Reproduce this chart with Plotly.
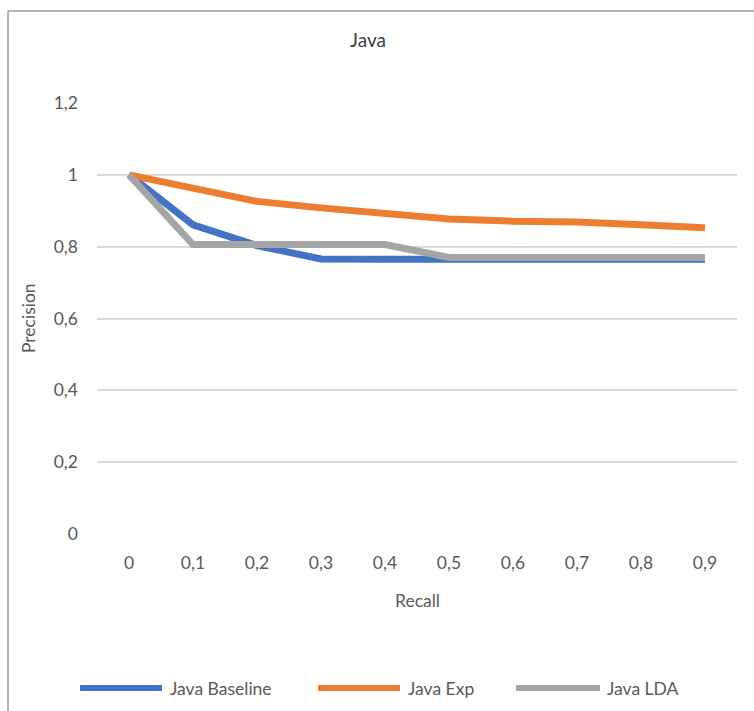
import plotly.graph_objects as go

# Recall levels (category labels, decimal comma) and precision per method
recall_labels = ["0", "0,1", "0,2", "0,3", "0,4", "0,5", "0,6", "0,7", "0,8", "0,9"]
java_baseline = [1.0, 0.861, 0.803, 0.766, 0.765, 0.765, 0.765, 0.765, 0.765, 0.765]
java_exp = [1.0, 0.962, 0.926, 0.908, 0.892, 0.877, 0.871, 0.869, 0.861, 0.853]
java_lda = [1.0, 0.806, 0.806, 0.806, 0.806, 0.770, 0.770, 0.770, 0.770, 0.770]

series_names = ["Java Baseline", "Java Exp", "Java LDA"]
series_values = [java_baseline, java_exp, java_lda]
series_colors = ["#4472C4", "#ED7D31", "#A5A5A5"]

FONT = "Lato"
TEXT_COLOR = "#595959"
FS = 17.5

fig = go.Figure()
for name, vals, color in zip(series_names, series_values, series_colors):
    fig.add_trace(go.Scatter(
        x=recall_labels, y=vals, name=name, mode="lines",
        line=dict(color=color, width=7),
        showlegend=False,
    ))

# Plot area spans 97..737 px horizontally and 103..534 px vertically
L, R, T, B = 97, 17, 103, 177
W, H = 754, 711
pw, ph = W - L - R, H - T - B


def px_x(p):
    return (p - L) / pw


def px_y(p):
    return (H - B - p) / ph


shapes = []
annotations = []

# Chart frame (left and top edges)
shapes.append(dict(type="line", xref="paper", yref="paper",
                   x0=px_x(8), x1=px_x(8), y0=px_y(11), y1=px_y(720),
                   line=dict(color="#6b6b6b", width=1)))
shapes.append(dict(type="line", xref="paper", yref="paper",
                   x0=px_x(8), x1=px_x(760), y0=px_y(11), y1=px_y(11),
                   line=dict(color="#6b6b6b", width=1)))

# Legend row with long line swatches
legend_items = [(80, 162, 168), (318, 400, 406), (516, 600, 605)]
for (x0, x1, tx), name, color in zip(legend_items, series_names, series_colors):
    shapes.append(dict(type="line", xref="paper", yref="paper",
                       x0=px_x(x0), x1=px_x(x1), y0=px_y(688), y1=px_y(688),
                       line=dict(color=color, width=6)))
    annotations.append(dict(text=name, xref="paper", yref="paper",
                            x=px_x(tx), y=px_y(688), xanchor="left", yanchor="middle",
                            showarrow=False,
                            font=dict(family=FONT, size=FS, color=TEXT_COLOR)))

# Axis titles
annotations.append(dict(text="Recall", xref="paper", yref="paper",
                        x=px_x(417), y=px_y(600), xanchor="center", yanchor="middle",
                        showarrow=False, font=dict(family=FONT, size=FS, color=TEXT_COLOR)))
annotations.append(dict(text="Precision", xref="paper", yref="paper",
                        x=px_x(28), y=px_y(318), xanchor="center", yanchor="middle",
                        textangle=-90, showarrow=False,
                        font=dict(family=FONT, size=FS, color=TEXT_COLOR)))

fig.update_layout(
    width=W, height=H,
    margin=dict(l=L, r=R, t=T, b=B),
    paper_bgcolor="white", plot_bgcolor="white",
    separators=",.",
    title=dict(text="Java", x=368 / W, xanchor="center",
               y=1 - 40 / H, yanchor="middle",
               font=dict(family=FONT, size=19, color="#404040")),
    font=dict(family=FONT, size=FS, color=TEXT_COLOR),
    shapes=shapes,
    annotations=annotations,
)
fig.update_xaxes(type="category", range=[-0.5, 9.5], showgrid=False,
                 showline=False, ticks="", zeroline=False,
                 tickfont=dict(family=FONT, size=FS, color=TEXT_COLOR),
                 ticklabelstandoff=16)
fig.update_yaxes(range=[0, 1.2], dtick=0.2, showgrid=True, gridcolor="#D9D9D9",
                 gridwidth=1.5, zeroline=False, showline=False, ticks="",
                 tickfont=dict(family=FONT, size=FS, color=TEXT_COLOR),
                 ticklabelstandoff=18)

fig.write_html("out.html")
